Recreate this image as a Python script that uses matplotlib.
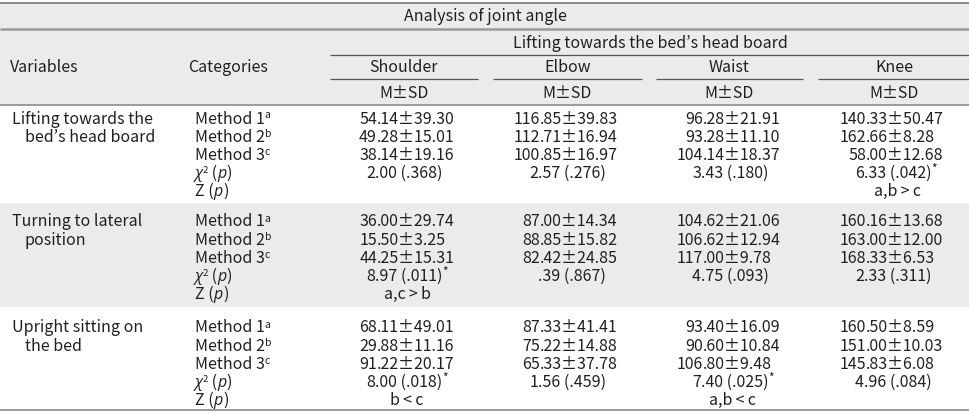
import matplotlib.pyplot as plt
from matplotlib.patches import Rectangle

plt.rcParams['font.family'] = ['Noto Sans CJK KR', 'DejaVu Sans']

# ---- data ----
title = 'Analysis of joint angle'
task_header = "Lifting towards the bed\u2019s head board"
joints = ['Shoulder', 'Elbow', 'Waist', 'Knee']
methods = ['Method 1', 'Method 2', 'Method 3']
method_sup = ['a', 'b', 'c']
tasks = [["Lifting towards the", "bed\u2019s head board"],
         ["Turning to lateral", "position"],
         ["Upright sitting on", "the bed"]]

# mean / sd : [task][method][joint]
means = [[[54.14, 116.85, 96.28, 140.33],
          [49.28, 112.71, 93.28, 162.66],
          [38.14, 100.85, 104.14, 58.00]],
         [[36.00, 87.00, 104.62, 160.16],
          [15.50, 88.85, 106.62, 163.00],
          [44.25, 82.42, 117.00, 168.33]],
         [[68.11, 87.33, 93.40, 160.50],
          [29.88, 75.22, 90.60, 151.00],
          [91.22, 65.33, 106.80, 145.83]]]
sds = [[[39.30, 39.83, 21.91, 50.47],
        [15.01, 16.94, 11.10, 8.28],
        [19.16, 16.97, 18.37, 12.68]],
       [[29.74, 14.34, 21.06, 13.68],
        [3.25, 15.82, 12.94, 12.00],
        [15.31, 24.85, 9.78, 6.53]],
       [[49.01, 41.41, 16.09, 8.59],
        [11.16, 14.88, 10.84, 10.03],
        [20.17, 37.78, 9.48, 6.08]]]
chi2 = [[2.00, 2.57, 3.43, 6.33],
        [8.97, 0.39, 4.75, 2.33],
        [8.00, 1.56, 7.40, 4.96]]
pvals = [[.368, .276, .180, .042],
         [.011, .867, .093, .311],
         [.018, .459, .025, .084]]
posthoc = [['', '', '', 'a,b\u2009>\u2009c'],
           ['a,c\u2009>\u2009b', '', '', ''],
           ['b\u2009<\u2009c', '', 'a,b\u2009<\u2009c', '']]

# ---- layout (pixels) ----
W, H = 970, 413
txt = '#231f20'
fs = 11.5
col_span = [(330, 478), (493, 642), (656, 803), (818, 970)]
dec_x = [377, 540, 703, 866]
group_top = [105, 203, 307]
group_bot = [203, 307, 409]
first_row = [118, 221, 327]
row_h = 18.2
base = 5.5  # row centre -> baseline

fig = plt.figure(figsize=(W / 100, H / 100), dpi=100)
ax = fig.add_axes([0, 0, 1, 1])
ax.set_xlim(0, W)
ax.set_ylim(H, 0)
ax.axis('off')
renderer = fig.canvas.get_renderer()

# backgrounds
ax.add_patch(Rectangle((0, 3), W, 101, color='#ebebeb', lw=0, zorder=0))
ax.add_patch(Rectangle((0, group_top[1]), W, group_bot[1] - group_top[1],
                       color='#ebebeb', lw=0, zorder=0))

# rules
ax.hlines(3, 0, W, color='#777777', lw=1.2)
ax.hlines(28.5, 0, W, color='#9a9a9a', lw=1.8)
ax.hlines(55, 330, W, color='#555555', lw=0.9)
for a, b in col_span:
    ax.hlines(79, a, b, color='#555555', lw=0.9)
ax.hlines(104.5, 0, W, color='#8a8a8a', lw=1.2)
ax.hlines(409.5, 0, W, color='#8a8a8a', lw=1.2)


def fmt(v, nd=2):
    s = f'{v:.{nd}f}'
    return s[1:] if s.startswith('0') else s


def run(x, y, parts):
    # parts: (text, size factor, raise px, italic) drawn one after another
    for s, k, dy, it in parts:
        kw = dict(family=['Open Sans'], style='italic') if it else {}
        t = ax.text(x, y + base - dy, s, ha='left', va='baseline',
                    fontsize=fs * k, color=txt, **kw)
        x += t.get_window_extent(renderer).width
    return x


def dec_text(x, y, s, star=False):
    # align on the first decimal point
    left, right = s.split('.', 1)
    ax.text(x, y + base, left, ha='right', va='baseline', fontsize=fs, color=txt)
    parts = [('.' + right, 1, 0, False)]
    if star:
        parts.append(('*', 0.75, 5, False))
    run(x, y, parts)


def plain(x, y, s, ha='left'):
    ax.text(x, y + base, s, ha=ha, va='baseline', fontsize=fs, color=txt)


# header text
plain(W / 2, 15.5, title, 'center')
plain(650, 42, task_header, 'center')
plain(10, 67, 'Variables')
plain(228, 67, 'Categories', 'center')
for (a, b), j in zip(col_span, joints):
    plain((a + b) / 2, 67, j, 'center')
    plain((a + b) / 2, 92, 'M\u00b1SD', 'center')

# body
for g in range(3):
    y0 = first_row[g]
    plain(12, y0, tasks[g][0])
    plain(25, y0 + row_h, tasks[g][1])
    for m in range(3):
        y = y0 + m * row_h
        run(195, y, [(methods[m], 1, 0, False), (method_sup[m], 0.65, 5, False)])
        for j in range(4):
            dec_text(dec_x[j], y, f'{means[g][m][j]:.2f}\u00b1{sds[g][m][j]:.2f}')
    y = y0 + 3 * row_h
    run(195, y, [('\u03c7', 1, 0, True), ('2', 0.6, 5, False), (' (', 1, 0, False),
                 ('p', 1, 0, True), (')', 1, 0, False)])
    for j in range(4):
        dec_text(dec_x[j] - 2, y, f'{fmt(chi2[g][j])} ({fmt(pvals[g][j], 3)})',
                 star=pvals[g][j] < .05)
    y = y0 + 4 * row_h
    run(195, y, [('Z (', 1, 0, False), ('p', 1, 0, True), (')', 1, 0, False)])
    for j in range(4):
        if posthoc[g][j]:
            a, b = col_span[j]
            plain((a + b) / 2 + 3, y, posthoc[g][j], 'center')

fig.savefig('out.png', dpi=100)
